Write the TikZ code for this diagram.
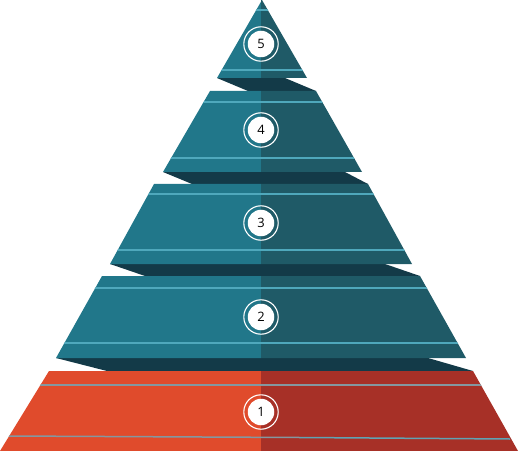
\documentclass[tikz,border=0pt]{standalone}
\usepackage{fontspec}
\setmainfont{Open Sans}
\definecolor{tealL}{HTML}{21778A}
\definecolor{tealR}{HTML}{1F5A67}
\definecolor{shadowc}{HTML}{133A48}
\definecolor{tline}{HTML}{4FA8BC}
\definecolor{orL}{HTML}{E04B2C}
\definecolor{orR}{HTML}{A73027}
\definecolor{oline}{HTML}{8497A0}
\tikzset{
  numdisk/.style={circle, fill=white, minimum size=26.5bp, inner sep=0pt, font=\fontsize{13}{13}\selectfont, text=black},
  ring/.style={draw=white, line width=1.1bp},
  band/.style={line width=1.5bp},
}
\begin{document}
\begin{tikzpicture}[x=1bp,y=-1bp]
\useasboundingbox (0,0) rectangle (520,451);
% shadows
\fill[fill=shadowc] (217,78) -- (285,78) -- (316,91) -- (248,91) -- cycle;
\fill[fill=shadowc] (163,172) -- (345,172) -- (368,184) -- (192,184) -- cycle;
\fill[fill=shadowc] (110,264) -- (385,264) -- (420,276) -- (145,276) -- cycle;
\fill[fill=shadowc] (56,358) -- (428,358) -- (473,371) -- (107,371) -- cycle;
% tier 5
\fill[tealL] (262,0) -- (261,0) -- (261,78) -- (217,78) -- cycle;
\fill[tealR] (261,0) -- (262,0) -- (307,78) -- (261,78) -- cycle;
\begin{scope}
\clip (262,0) -- (307,78) -- (217,78) -- cycle;
\draw[band,tline] (200,10) -- (330,10);
\draw[band,tline] (200,70) -- (330,70);
\end{scope}
% tier 4
\fill[tealL] (210,91) -- (261,91) -- (261,172) -- (163,172) -- cycle;
\fill[tealR] (261,91) -- (316,91) -- (362,172) -- (261,172) -- cycle;
\begin{scope}
\clip (210,91) -- (316,91) -- (362,172) -- (163,172) -- cycle;
\draw[band,tline] (150,102) -- (380,102);
\draw[band,tline] (150,158) -- (380,158);
\end{scope}
% tier 3
\fill[tealL] (154,184) -- (261,184) -- (261,264) -- (110,264) -- cycle;
\fill[tealR] (261,184) -- (368,184) -- (412,264) -- (261,264) -- cycle;
\begin{scope}
\clip (154,184) -- (368,184) -- (412,264) -- (110,264) -- cycle;
\draw[band,tline] (100,194) -- (420,194);
\draw[band,tline] (100,250) -- (420,250);
\end{scope}
% tier 2
\fill[tealL] (102,276) -- (261,276) -- (261,358) -- (56,358) -- cycle;
\fill[tealR] (261,276) -- (420,276) -- (466,358) -- (261,358) -- cycle;
\begin{scope}
\clip (102,276) -- (420,276) -- (466,358) -- (56,358) -- cycle;
\draw[band,tline] (40,288) -- (480,288);
\draw[band,tline] (40,343) -- (480,343);
\end{scope}
% tier 1
\fill[orL] (49,371) -- (261,371) -- (261,451) -- (0,451) -- cycle;
\fill[orR] (261,371) -- (473,371) -- (518,451) -- (261,451) -- cycle;
\begin{scope}
\clip (49,371) -- (473,371) -- (518,451) -- (0,451) -- cycle;
\draw[band,oline] (30,385) -- (490,385);
\draw[band,oline] (8,436) -- (300,437.5);
\draw[band,tline!70!oline] (300,437.5) -- (510,439);
\end{scope}
% number badges
\foreach \n/\yy in {5/44, 4/130, 3/223, 2/317, 1/412}{
  \node[numdisk] (c\n) at (261,\yy) {\n};
  \draw[ring] (c\n.center) circle[radius=17.2bp];
}
\end{tikzpicture}
\end{document}
